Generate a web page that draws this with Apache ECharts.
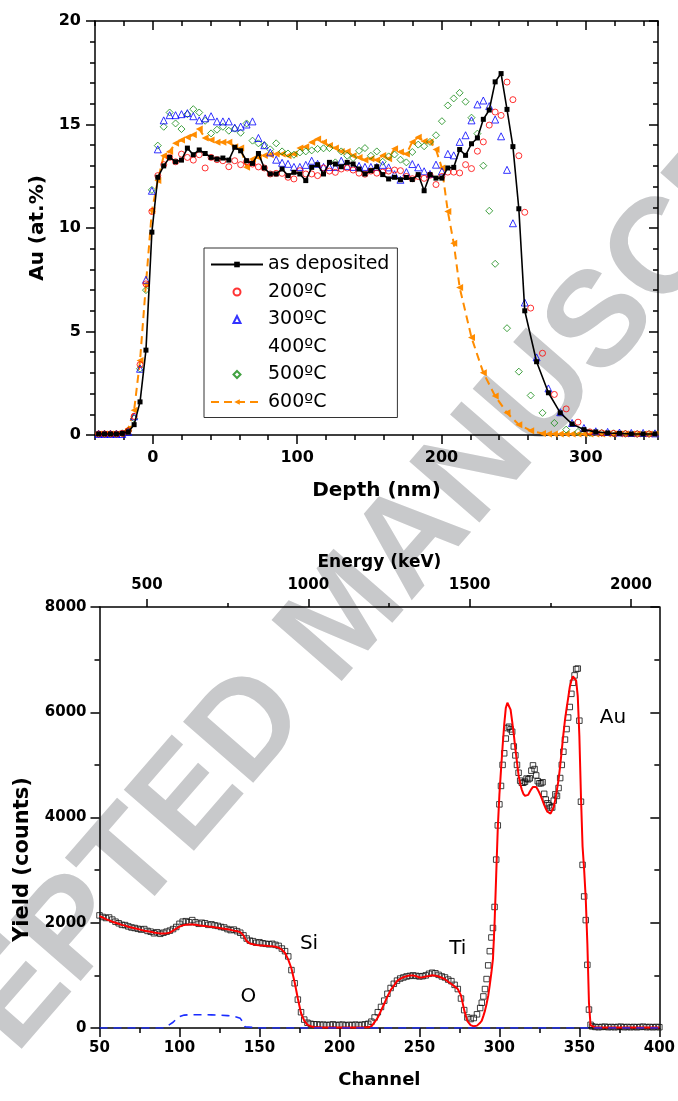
<!DOCTYPE html>
<html><head><meta charset="utf-8">
<script src="https://cdn.jsdelivr.net/npm/echarts@6/dist/echarts.min.js"></script>
<style>html,body{margin:0;padding:0;background:#fff}#c{width:678px;height:1101px}</style>
</head><body><div id="c"></div>
<script>
// ---------- top panel: Au depth profiles ----------
const depthNm = [-37.5,-33.4,-29.3,-25.2,-21.1,-17.0,-12.9,-8.8,-4.7,-0.6,
  3.5,7.6,11.7,15.8,19.9,24.0,28.1,32.2,36.3,40.4,
  44.5,48.6,52.7,56.8,60.9,65.0,69.1,73.2,77.3,81.4,
  85.5,89.6,93.7,97.8,101.9,106.0,110.1,114.2,118.3,122.4,
  126.5,130.6,134.7,138.8,142.9,147.0,151.1,155.2,159.3,163.4,
  167.5,171.6,175.7,179.8,183.9,188.0,192.1,196.2,200.3,204.4,
  208.5,212.6,216.7,220.8,224.9,229.0,233.1,237.2,241.3,245.4,
  249.5,253.6,257.7,261.8,265.9,270.0,274.1,278.2,282.3,286.4,
  290.5,294.6,298.7,302.8,306.9,311.0,315.1,319.2,323.3,327.4,
  331.5,335.6,339.7,343.8,347.9];
const asDeposited = [0.05,0.05,0.05,0.05,0.08,0.15,0.5,1.6,4.1,9.8,
  12.45,13.0,13.41,13.2,13.28,13.86,13.54,13.77,13.6,13.41,
  13.33,13.38,13.28,13.9,13.73,13.25,13.12,13.6,12.9,12.61,
  12.61,12.85,12.53,12.69,12.61,12.29,12.93,13.06,12.61,13.17,
  13.09,12.96,13.17,13.09,12.85,12.61,12.77,12.96,12.58,12.37,
  12.45,12.33,12.44,12.34,12.58,11.8,12.58,12.41,12.41,12.9,
  12.93,13.79,13.51,14.07,14.35,15.25,15.7,17.06,17.46,15.73,
  13.93,10.93,6.0,null,3.54,null,2.04,null,1.07,null,
  0.53,null,0.26,null,0.15,null,0.1,null,0.08,null,
  0.05,null,0.05,null,0.05];
const t200 = [0.05,0.05,0.05,0.05,0.08,0.2,0.9,3.4,7.3,10.8,
  12.53,13.06,13.41,13.2,13.57,13.41,13.28,13.54,12.9,13.41,
  13.3,13.25,12.96,13.25,13.06,13.2,13.09,12.95,12.9,12.61,
  12.64,12.64,12.45,12.37,12.77,12.61,12.61,12.53,12.9,12.75,
  12.69,12.85,12.9,12.8,12.65,12.6,12.75,12.65,12.7,12.75,
  12.8,12.77,12.49,12.38,12.49,12.4,12.55,12.1,12.49,12.7,
  12.7,12.66,13.06,12.87,13.71,14.16,14.97,15.6,15.44,17.05,
  16.2,13.49,10.76,6.13,null,3.95,null,1.96,null,1.26,
  null,0.62,null,0.15,null,0.1,null,0.08,null,0.06,
  null,0.05,null,0.05,null];
const t300 = [0.05,0.05,0.05,0.05,0.05,0.15,0.9,3.2,7.5,11.8,
  13.8,15.2,15.45,15.45,15.5,15.55,15.4,15.2,15.3,15.4,
  15.15,15.15,15.15,14.85,14.9,15.0,15.15,14.35,14.0,13.65,
  13.3,13.15,13.1,12.95,12.95,13.05,13.25,13.1,12.95,12.95,
  12.95,13.25,13.0,12.95,13.0,12.95,12.95,12.95,13.05,12.93,
  12.6,12.33,12.7,13.09,12.93,12.74,12.61,13.06,12.74,13.58,
  13.51,14.16,14.48,15.2,15.97,16.16,15.89,15.24,14.43,12.81,
  10.23,null,6.4,null,3.75,null,2.25,null,1.1,null,
  0.58,null,0.34,null,0.18,null,0.15,null,0.12,null,
  0.1,null,0.1,null,0.08];
const t400 = [];
const t500 = [0.05,0.05,0.05,0.05,0.08,0.2,0.8,3.2,7.0,11.84,
  13.98,14.89,15.58,15.05,14.78,15.5,15.74,15.58,15.18,14.57,
  14.75,14.89,14.7,14.8,14.6,15.05,14.22,14.09,14.0,13.8,
  14.09,13.7,13.6,13.54,13.65,13.7,13.75,13.82,13.85,13.86,
  13.17,13.7,13.49,13.38,13.73,13.86,13.49,13.7,13.2,13.46,
  13.55,13.3,13.17,13.67,14.03,13.95,14.16,14.48,15.16,15.92,
  16.26,16.53,16.1,15.33,14.56,13.01,10.83,8.27,null,5.16,
  null,3.06,null,1.91,null,1.07,null,0.58,null,0.26,
  null,0.15,null,0.1,null,0.1,null,0.08,null,0.06,
  null,0.05,null,0.05,null];
const t600 = [0.05,0.05,0.05,0.05,0.1,0.3,1.2,3.6,7.3,10.84,
  12.29,13.49,13.7,14.09,14.25,14.38,14.5,14.78,14.35,14.25,
  14.14,14.14,14.14,13.93,13.86,12.93,13.33,13.41,13.5,13.54,
  13.57,13.57,13.49,13.57,13.86,13.93,14.14,14.3,14.14,13.98,
  13.86,13.7,13.7,13.49,13.41,13.28,13.35,13.28,13.5,13.35,
  13.83,13.67,13.57,14.16,14.39,14.19,14.16,13.79,12.9,10.8,
  9.26,7.13,null,4.71,null,3.01,null,1.88,null,1.07,
  null,0.5,null,0.21,null,0.07,0.05,0.05,0.05,0.05,
  0.05,0.05,0.05,0.05,0.05,0.05,0.05,0.05,0.05,0.05,
  0.05,0.05,0.05,0.05,0.05];
const depthTickLabels = [0,100,200,300];

// ---------- bottom panel: RBS spectrum ----------
const yieldChannel = [50,52,54,56,58,60,62,64,66,68,70,72,74,76,78,80,82,84,86,88,
  90,92,94,96,98,100,102,104,106,108,110,112,114,116,118,120,122,124,126,128,
  130,132,134,136,138,140,142,144,146,148,150,152,154,156,158,160,162,164,166,168,
  170,172,174,176,178,180,182,184,186,188,190,192,194,196,198,200,202,204,206,208,
  210,212,214,216,218,220,222,224,226,228,230,232,234,236,238,240,242,244,246,248,
  250,252,254,256,258,260,262,264,266,268,270,272,274,276,278,280,282,284,286,288,
  289,290,291,292,293,294,295,296,297,298,299,300,301,302,303,304,305,306,307,308,
  309,310,311,312,313,314,315,316,317,318,319,320,321,322,323,324,325,326,327,328,
  329,330,331,332,333,334,335,336,337,338,339,340,341,342,343,344,345,346,347,348,
  349,350,351,352,353,354,355,356,357,358,
  360,362,364,366,368,370,372,374,376,378,380,382,384,386,388,390,392,394,396,398,400];
const yieldData = [2140,2110,2090,2100,2060,2020,1990,1960,1955,1930,1910,1900,1885,1870,1880,1845,1830,1800,1820,1790,
  1810,1830,1850,1880,1920,1980,2020,2030,2010,2050,2010,1980,2000,1990,1960,1970,1950,1940,1920,1910,
  1880,1860,1870,1840,1810,1760,1700,1660,1650,1620,1630,1610,1600,1590,1600,1580,1560,1510,1460,1360,
  1100,850,540,300,160,100,80,70,70,60,65,55,60,70,55,60,65,50,60,55,
  65,55,60,70,80,120,200,300,400,520,650,760,840,900,940,960,980,990,1000,990,
  980,985,1000,1030,1050,1040,1010,980,960,920,890,820,740,560,340,200,170,190,260,380,
  480,600,740,930,1190,1460,1720,1900,2300,3200,3850,4250,4600,5000,5220,5500,5700,5725,5675,5630,
  5350,5180,5000,4850,4700,4660,4660,4680,4740,4725,4745,4890,4990,4920,4800,4690,4650,4650,4670,4450,
  4340,4270,4230,4190,4190,4320,4440,4410,4560,4750,5000,5250,5480,5680,5900,6100,6350,6560,6700,6820,
  6830,5840,4300,3100,2500,2050,1200,350,60,30,
  20,15,20,25,15,20,15,20,25,15,20,15,20,15,20,25,15,20,15,20,15];
const yieldFit = [2125,2100,2070,2045,2020,2000,1980,1960,1945,1925,1910,1895,1880,1865,1850,1840,1828,1815,1805,1798,
  1795,1800,1812,1850,1890,1925,1950,1962,1967,1968,1962,1952,1945,1937,1930,1925,1915,1907,1895,1885,
  1875,1865,1850,1838,1822,1760,1650,1605,1590,1578,1570,1566,1562,1558,1555,1545,1527,1490,1425,1300,
  1130,870,560,280,140,60,35,20,15,12,10,10,10,10,10,10,10,10,10,10,
  10,10,10,12,15,30,110,200,330,460,600,720,800,890,935,965,985,1000,1000,985,
  960,965,978,990,1003,995,978,955,927,880,835,790,740,620,340,130,55,32,45,100,
  140,230,330,460,610,820,1050,1320,2000,2900,3800,4430,4900,5350,5760,6080,6180,6150,6050,5820,
  5580,5300,5050,4800,4640,4530,4450,4410,4395,4430,4490,4540,4580,4600,4580,4530,4470,4400,4320,4240,
  4170,4110,4080,4075,4110,4200,4350,4530,4720,4980,5280,5580,5850,6070,6270,6480,6600,6680,6710,6600,
  6300,5550,4400,3450,3000,2450,1600,480,50,15,
  10,10,10,10,10,10,10,10,10,10,10,10,10,10,10,10,10,10,10,10,10];
const oChannel = [50,80,90,92,94,96,98,100,103,106,110,115,120,125,130,133,136,138,140,141,142,150,200,250,300,350,400];
const oYield   = [0,0,0,30,70,110,170,215,245,252,253,253,250,246,236,227,205,183,100,25,0,0,0,0,0,0,0];
const energyMajor = [500,1000,1500,2000];
const energyMinor = [750,1250,1750];
const peakLabels = [
  {text:'Si', ch:181, counts:1600},
  {text:'Ti', ch:274, counts:1500},
  {text:'Au', ch:371, counts:5890},
  {text:'O',  ch:143, counts:590}
];

// ---------- chart ----------
const FONT = 'DejaVu Sans';
const AX = {color:'#000', width:1.5};
const zip = (xs, ys) => xs.map((x, i) => [x, ys[i]]);
const hidden = {show:false};
const plain = v => String(v);
const chart = echarts.init(document.getElementById('c'), null, {renderer:'canvas', width:678, height:1101});

function valAxis(o) {
  return Object.assign({type:'value', splitLine:hidden, axisPointer:{show:false}}, o);
}
function lbl(size, extra) {
  return Object.assign({show:true, fontSize:size, fontFamily:FONT, fontWeight:'bold', color:'#000', formatter:plain}, extra);
}
function nameStyle(size, extra) {
  return Object.assign({fontSize:size, fontFamily:FONT, fontWeight:'bold', color:'#000'}, extra);
}
// legend icons padded to the legend item box so that the marker keeps its shape
const ICON_TRI = 'path://M0,0M52,7M22.5,7L26,0L29.5,7Z';
const ICON_DIA = 'path://M0,0M52,7M26,0L29.5,3.5L26,7L22.5,3.5Z';

const option = {
  animation:false,
  backgroundColor:'#fff',
  grid:[
    {left:95, top:21, width:563, height:414},
    {left:99.5, top:607, width:563.5, height:421}
  ],
  xAxis:[
    valAxis({gridIndex:0, position:'bottom', min:-40, max:350, interval:20,
      axisLine:{show:true, onZero:false, lineStyle:AX},
      axisTick:{show:true, inside:false, length:5, lineStyle:AX},
      axisLabel:{show:false}}),
    valAxis({gridIndex:0, position:'bottom', min:-40, max:350,
      axisLine:{show:false, onZero:false},
      axisTick:{show:true, inside:false, length:9, lineStyle:AX, customValues:depthTickLabels},
      axisLabel:lbl(16, {customValues:depthTickLabels, margin:15}),
      name:'Depth (nm)', nameLocation:'middle', nameGap:46, nameTextStyle:nameStyle(20)}),
    valAxis({gridIndex:0, position:'top', min:-40, max:350, interval:20,
      axisLine:{show:true, onZero:false, lineStyle:AX},
      axisTick:{show:true, inside:true, length:5, lineStyle:AX},
      axisLabel:{show:false}}),
    valAxis({gridIndex:0, position:'top', min:-40, max:350,
      axisLine:{show:false, onZero:false},
      axisTick:{show:true, inside:true, length:9, lineStyle:AX, customValues:depthTickLabels},
      axisLabel:{show:false}}),
    valAxis({gridIndex:1, position:'bottom', min:50, max:400, interval:50,
      axisLine:{show:true, onZero:false, lineStyle:AX},
      axisTick:{show:true, inside:false, length:9, lineStyle:AX},
      minorTick:{show:true, splitNumber:2, length:5, lineStyle:AX},
      axisLabel:lbl(15, {margin:13}),
      name:'Channel', nameLocation:'middle', nameGap:43, nameTextStyle:nameStyle(18)}),
    valAxis({gridIndex:1, position:'top', min:353, max:2088,
      axisLine:{show:true, onZero:false, lineStyle:AX},
      axisTick:{show:true, inside:false, length:8, lineStyle:AX, customValues:energyMajor},
      axisLabel:lbl(15, {customValues:energyMajor, margin:14}),
      name:'Energy (keV)', nameLocation:'middle', nameGap:36, nameTextStyle:nameStyle(17)}),
    valAxis({gridIndex:1, position:'top', min:353, max:2088,
      axisLine:{show:false, onZero:false},
      axisTick:{show:true, inside:false, length:4, lineStyle:AX, customValues:energyMinor},
      axisLabel:{show:false}})
  ],
  yAxis:[
    valAxis({gridIndex:0, position:'left', min:0, max:20, interval:5,
      axisLine:{show:true, onZero:false, lineStyle:AX},
      axisTick:{show:true, inside:false, length:9, lineStyle:AX},
      minorTick:{show:true, splitNumber:5, length:5, lineStyle:AX},
      axisLabel:lbl(16, {margin:14}),
      name:'Au (at.%)', nameLocation:'middle', nameGap:42, nameTextStyle:nameStyle(20)}),
    valAxis({gridIndex:0, position:'right', min:0, max:20, interval:5,
      axisLine:{show:true, onZero:false, lineStyle:AX},
      axisTick:{show:true, inside:true, length:9, lineStyle:AX},
      minorTick:{show:true, splitNumber:5, length:5, lineStyle:AX},
      axisLabel:{show:false}}),
    valAxis({gridIndex:1, position:'left', min:0, max:8000, interval:2000,
      axisLine:{show:true, onZero:false, lineStyle:AX},
      axisTick:{show:true, inside:false, length:9, lineStyle:AX},
      minorTick:{show:true, splitNumber:2, length:5, lineStyle:AX},
      axisLabel:lbl(15, {margin:13}),
      name:'Yield (counts)', nameLocation:'middle', nameGap:66,
      nameTextStyle:nameStyle(21, {padding:[0,84,0,0]})}),
    valAxis({gridIndex:1, position:'right', min:0, max:8000, interval:2000,
      axisLine:{show:true, onZero:false, lineStyle:AX},
      axisTick:{show:true, inside:true, length:9, lineStyle:AX},
      minorTick:{show:true, splitNumber:2, length:5, lineStyle:AX},
      axisLabel:{show:false}})
  ],
  legend:{
    data:[{name:'as deposited'},{name:'200ºC'},{name:'300ºC', icon:ICON_TRI},
          {name:'400ºC', itemStyle:{opacity:0}},{name:'500ºC', icon:ICON_DIA},{name:'600ºC'}],
    orient:'vertical', left:204, top:248, padding:[7,8,6,6],
    itemWidth:52, itemHeight:7, itemGap:8.5,
    borderColor:'#333', borderWidth:1, backgroundColor:'#fff',
    selectedMode:false,
    textStyle:{fontFamily:FONT, fontSize:19, lineHeight:19, color:'#000'}
  },
  series:[
    {name:'600ºC', type:'line', xAxisIndex:0, yAxisIndex:0, data:zip(depthNm, t600), connectNulls:true,
      symbol:'triangle', symbolRotate:90, symbolSize:7, itemStyle:{color:'#ff8c00'},
      lineStyle:{color:'#ff8c00', width:2, type:[8,5]}, z:3},
    {name:'500ºC', type:'scatter', xAxisIndex:0, yAxisIndex:0, data:zip(depthNm, t500),
      symbol:'diamond', symbolSize:7,
      itemStyle:{color:'rgba(0,0,0,0)', borderColor:'#128a12', borderWidth:1}, z:4},
    {name:'400ºC', type:'scatter', xAxisIndex:0, yAxisIndex:0, data:t400,
      symbol:'circle', symbolSize:6, itemStyle:{color:'rgba(0,0,0,0)', borderColor:'rgba(0,0,0,0)', opacity:0}},
    {name:'300ºC', type:'scatter', xAxisIndex:0, yAxisIndex:0, data:zip(depthNm, t300),
      symbol:'triangle', symbolSize:7,
      itemStyle:{color:'rgba(0,0,0,0)', borderColor:'#0000ff', borderWidth:1}, z:4},
    {name:'200ºC', type:'scatter', xAxisIndex:0, yAxisIndex:0, data:zip(depthNm, t200),
      symbol:'circle', symbolSize:6,
      itemStyle:{color:'rgba(0,0,0,0)', borderColor:'#ff0000', borderWidth:1}, z:4},
    {name:'as deposited', type:'line', xAxisIndex:0, yAxisIndex:0, data:zip(depthNm, asDeposited), connectNulls:true,
      symbol:'rect', symbolSize:5, itemStyle:{color:'#000'}, lineStyle:{color:'#000', width:1.6}, z:5},

    {name:'data', type:'scatter', xAxisIndex:4, yAxisIndex:2, data:zip(yieldChannel, yieldData),
      symbol:'rect', symbolSize:5.5, itemStyle:{color:'rgba(0,0,0,0)', borderColor:'#111', borderWidth:1}, z:3},
    {name:'fit', type:'line', xAxisIndex:4, yAxisIndex:2, data:zip(yieldChannel, yieldFit),
      symbol:'none', lineStyle:{color:'#ff0000', width:2}, z:4},
    {name:'O', type:'line', xAxisIndex:4, yAxisIndex:2, data:zip(oChannel, oYield),
      symbol:'none', lineStyle:{color:'#1a2cff', width:1.6, type:[8,6]}, z:4}
  ],
  graphic:[
    {type:'text', x:347, y:618, rotation:0.855, z:-5, silent:true,
      style:{text:'ACCEPTED MANUSCRIPT', fontSize:135, fontWeight:'bold', fontFamily:'Liberation Sans',
        fill:'#c8c9cb', align:'center', verticalAlign:'middle'}}
  ]
};
chart.setOption(option);

// peak labels placed through the bottom panel's own scales
const labelGraphics = peakLabels.map(p => {
  const pt = chart.convertToPixel({xAxisIndex:4, yAxisIndex:2}, [p.ch, p.counts]);
  return {type:'text', x:pt[0], y:pt[1], z:10, silent:true,
    style:{text:p.text, fontSize:20, fontFamily:FONT, fill:'#000', align:'center', verticalAlign:'middle'}};
});
chart.setOption({graphic: option.graphic.concat(labelGraphics)});
</script>
</body></html>
